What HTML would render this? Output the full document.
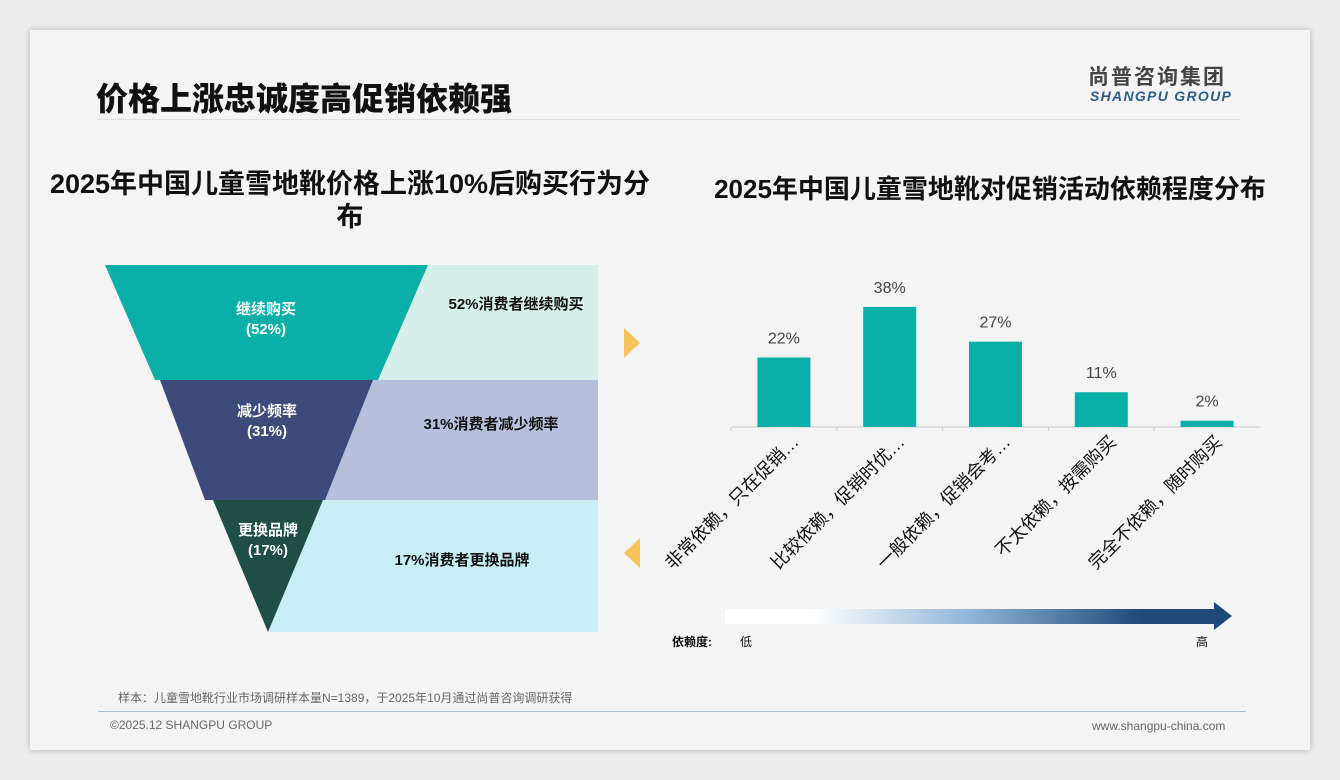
<!DOCTYPE html>
<html><head><meta charset="utf-8">
<style>
body{margin:0;width:1340px;height:780px;background:#ececec;font-family:"Liberation Sans","Noto Sans CJK SC",sans-serif;position:relative;overflow:hidden}
.slide{position:absolute;left:30px;top:30px;width:1280px;height:720px;background:#f4f4f4;box-shadow:0 0 6px rgba(0,0,0,.25)}
.abs{position:absolute}
</style></head><body>
<div class="slide"></div>
<div class="abs" style="left:96px;top:74px;font-size:32px;font-weight:900;color:#111">价格上涨忠诚度高促销依赖强</div>
<div class="abs" style="left:1088px;top:61px;font-size:21px;font-weight:bold;color:#444;letter-spacing:2px">尚普咨询集团</div>
<div class="abs" style="left:1090px;top:88px;font-size:14px;font-weight:bold;font-style:italic;color:#2c5d8a;letter-spacing:1.3px">SHANGPU GROUP</div>
<div class="abs" style="left:98px;top:119px;width:1142px;height:1px;background:#ddd"></div>
<div class="abs" style="left:20px;top:168px;width:660px;text-align:center;font-size:27px;font-weight:bold;line-height:33px;color:#111">2025年中国儿童雪地靴价格上涨10%后购买行为分<br>布</div>
<div class="abs" style="left:670px;top:169px;width:640px;text-align:center;font-size:26px;font-weight:bold;color:#111">2025年中国儿童雪地靴对促销活动依赖程度分布</div>

<svg class="abs" style="left:0;top:0" width="1340" height="780">
<rect x="300" y="265" width="298" height="115" fill="#d6efe9"/>
<rect x="300" y="380" width="298" height="120" fill="#b6c0dc"/>
<rect x="270" y="500" width="328" height="132" fill="#c8eef5"/>
<polygon points="105,265 428,265 378,380 155,380" fill="#0ab0a8"/>
<polygon points="160,380 373,380 325,500 205,500" fill="#3c4b7a"/>
<polygon points="213,500 323,500 268,632" fill="#1e4e45"/>
<g font-size="15" font-weight="bold" fill="#fff" text-anchor="middle">
<text x="266" y="314">继续购买</text><text x="266" y="334">(52%)</text>
<text x="267" y="416">减少频率</text><text x="267" y="436">(31%)</text>
<text x="268" y="535">更换品牌</text><text x="268" y="555">(17%)</text>
</g>
<g font-size="15" font-weight="bold" fill="#111" text-anchor="middle">
<text x="516" y="309">52%消费者继续购买</text>
<text x="491" y="429">31%消费者减少频率</text>
<text x="462" y="565">17%消费者更换品牌</text>
</g>
<polygon points="624,328 640,343 624,358" fill="#f5c35a"/>
<polygon points="640,538 624,553 640,568" fill="#f5c35a"/>
<defs><linearGradient id="g" x1="0" x2="1"><stop offset="0" stop-color="#fff"/><stop offset="0.18" stop-color="#fff"/><stop offset="0.5" stop-color="#8fb5d8"/><stop offset="0.85" stop-color="#1f4a78"/><stop offset="1" stop-color="#1f4a78"/></linearGradient></defs>
<rect x="725" y="609" width="490" height="15" fill="url(#g)"/>
<polygon points="1214,602 1232,616 1214,630" fill="#1f4a78"/>
<text x="672" y="646" font-size="12" font-weight="bold" fill="#111">依赖度:</text>
<text x="740" y="646" font-size="12" fill="#111">低</text>
<text x="1196" y="646" font-size="12" fill="#111">高</text>
<g id="bars"></g>
</svg>
<div class="abs" style="left:118px;top:689px;font-size:12px;color:#666">样本：儿童雪地靴行业市场调研样本量N=1389，于2025年10月通过尚普咨询调研获得</div>
<div class="abs" style="left:98px;top:711px;width:1148px;height:1px;background:#a9bfd6"></div>
<div class="abs" style="left:110px;top:718px;font-size:12px;color:#666">©2025.12 SHANGPU GROUP</div>
<div class="abs" style="left:1092px;top:719px;font-size:12px;color:#666">www.shangpu-china.com</div>
<script>
const categories=["非常依赖，只在促销…","比较依赖，促销时优…","一般依赖，促销会考…","不太依赖，按需购买","完全不依赖，随时购买"];
const values=[22,38,27,11,2];
const labels=["22%","38%","27%","11%","2%"];
const ns="http://www.w3.org/2000/svg",g=document.getElementById('bars');
const x0=731,x1=1260,base=427,k=3.16,step=(x1-x0)/categories.length,bw=53;
const xs=i=>x0+step*(i+0.5), ys=v=>base-v*k;
function mk(t,a){const e=document.createElementNS(ns,t);for(const n in a)e.setAttribute(n,a[n]);g.appendChild(e);return e;}
const ax=mk('line',{x1:x0,x2:x1,y1:base,y2:base,stroke:'#ccc'});


values.forEach((v,i)=>{
 const r=mk('rect',{x:xs(i)-bw/2,y:ys(v),width:bw,height:base-ys(v),fill:'#0ab0a8'});
 
 
 const t=mk('text',{x:xs(i),y:ys(v)-14,'font-size':16,fill:'#444','text-anchor':'middle'});t.textContent=labels[i];
 
 
 mk('line',{x1:x0+step*i,x2:x0+step*i,y1:base,y2:base+4,stroke:'#ccc'});
 const c=mk('text',{x:xs(i)+16,y:base+16,'font-size':18,fill:'#111','text-anchor':'end',transform:`rotate(-45 ${xs(i)+16} ${base+16})`});c.textContent=categories[i];
 
 
});
</script>
</body></html>
